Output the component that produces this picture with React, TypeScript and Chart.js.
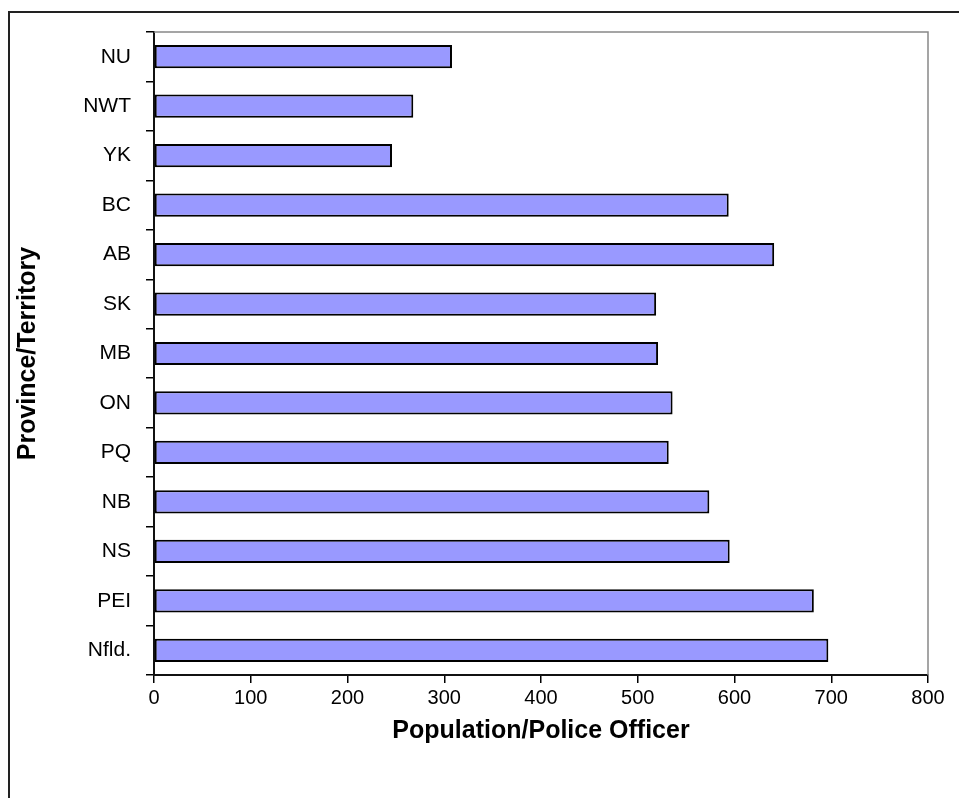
import React, { useEffect, useRef } from "react";
import { Chart, registerables } from "chart.js";

Chart.register(...registerables);

const categories = ["NU", "NWT", "YK", "BC", "AB", "SK", "MB", "ON", "PQ", "NB", "NS", "PEI", "Nfld."];
const values = [308, 268, 246, 594, 641, 519, 521, 536, 532, 574, 595, 682, 697];
const xTicks = [0, 100, 200, 300, 400, 500, 600, 700, 800];
const xTitle = "Population/Police Officer";
const yTitle = "Province/Territory";

const W = 959;
const H = 798;
const FONT = "'Liberation Sans', Arial, sans-serif";

const framePlugin = {
  id: "frame",
  beforeDraw(chart: any) {
    const ctx = chart.ctx;
    ctx.save();
    ctx.fillStyle = "#ffffff";
    ctx.fillRect(0, 0, W, H);
    ctx.strokeStyle = "#222";
    ctx.lineWidth = 2;
    ctx.strokeRect(9, 12, W + 20, H + 20);
    ctx.restore();
  },
  afterDraw(chart: any) {
    const { ctx, chartArea } = chart;
    ctx.save();
    ctx.strokeStyle = "#888888";
    ctx.lineWidth = 1.5;
    ctx.beginPath();
    ctx.moveTo(chartArea.left, chartArea.top);
    ctx.lineTo(chartArea.right, chartArea.top);
    ctx.lineTo(chartArea.right, chartArea.bottom);
    ctx.stroke();
    ctx.restore();
  },
};

export default function App() {
  const ref = useRef<HTMLCanvasElement | null>(null);
  useEffect(() => {
    if (!ref.current) return;
    const chart = new Chart(ref.current, {
      type: "bar",
      data: {
        labels: categories,
        datasets: [
          {
            data: values,
            backgroundColor: "#9999FF",
            borderColor: "#000000",
            borderWidth: 2,
            borderSkipped: false,
            barPercentage: 0.47,
            categoryPercentage: 1,
          },
        ],
      },
      options: {
        indexAxis: "y",
        animation: false,
        responsive: false,
        devicePixelRatio: 1,
        layout: { padding: { top: 32, right: 31, left: 0, bottom: 0 } },
        plugins: { legend: { display: false }, tooltip: { enabled: false } },
        scales: {
          x: {
            type: "linear",
            min: 0,
            max: 800,
            afterBuildTicks(scale: any) {
              scale.ticks = xTicks.map((v) => ({ value: v }));
            },
            afterFit(scale: any) {
              scale.height = 123;
            },
            grid: { drawOnChartArea: false, tickLength: 8, color: "#000", lineWidth: 1.5 },
            border: { color: "#111", width: 2 },
            ticks: {
              color: "#000",
              padding: 3,
              font: { family: FONT, size: 20 },
            },
            title: {
              display: true,
              text: xTitle,
              color: "#000",
              font: { family: FONT, size: 25, weight: "bold" },
              padding: { top: 0, bottom: 52 },
            },
          },
          y: {
            type: "category",
            afterFit(scale: any) {
              scale.width = 154;
            },
            grid: { offset: true, drawOnChartArea: false, tickLength: 8, color: "#000", lineWidth: 1.5 },
            border: { color: "#111", width: 2 },
            ticks: {
              color: "#000",
              padding: 15,
              font: { family: FONT, size: 21 },
            },
            title: {
              display: true,
              text: yTitle,
              color: "#000",
              font: { family: FONT, size: 25, weight: "bold" },
              padding: { top: 13, bottom: 0 },
            },
          },
        },
      },
      plugins: [framePlugin],
    });
    return () => chart.destroy();
  }, []);
  return (
    <div style={{ position: "fixed", left: 0, top: 0, width: W, height: H }}>
      <canvas ref={ref} width={W} height={H} style={{ display: "block", width: W, height: H }} />
    </div>
  );
}
